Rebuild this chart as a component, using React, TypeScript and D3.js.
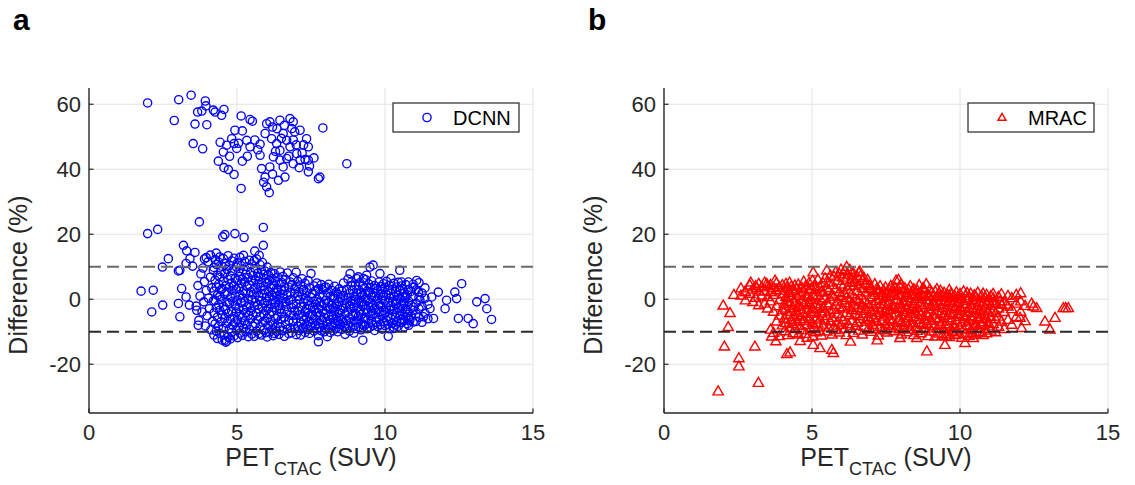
import React from "react";
import * as d3 from "d3";

// ---------- axis / reference values ----------
const X_DOMAIN: [number, number] = [0, 15];
const Y_DOMAIN: [number, number] = [-35, 65];
const X_TICKS = [0, 5, 10, 15];
const Y_TICKS = [-20, 0, 20, 40, 60];
const LIMITS = [10, -10];

// ---------- DCNN (panel a) ----------
const dcnnUpper: [number, number][] = [
  [1.98, 60.4], [3.03, 61.4], [3.45, 62.8], [3.93, 61.0], [3.95, 59.5], [2.88, 55.0], [3.67, 57.6], [3.81, 57.9],
  [4.2, 58.2], [4.26, 57.6], [4.56, 58.4], [4.48, 56.6], [3.58, 53.9], [3.98, 53.7], [3.52, 47.9], [3.84, 46.3],
  [5.14, 56.4], [5.44, 55.3], [5.52, 54.8], [4.93, 52.0], [5.18, 51.8], [4.43, 48.3], [4.65, 47.4], [4.54, 45.3],
  [4.82, 49.4], [4.9, 47.9], [4.99, 46.4], [5.33, 48.9], [5.44, 46.9], [5.78, 47.7], [4.37, 42.5], [4.56, 40.5],
  [4.71, 39.9], [4.9, 38.4], [5.18, 42.5], [5.14, 34.1], [5.78, 44.3], [5.83, 40.2], [6.0, 34.6], [6.09, 32.8],
  [5.95, 37.6], [6.0, 54.0], [6.11, 54.6], [6.45, 55.1], [6.79, 55.6], [6.9, 54.6], [7.13, 52.0], [7.35, 49.4],
  [7.41, 46.9], [5.95, 51.0], [6.17, 49.4], [6.34, 47.9], [6.56, 51.0], [6.68, 48.9], [6.45, 45.8], [6.79, 46.9],
  [7.02, 44.8], [7.13, 42.8], [6.9, 41.7], [6.68, 43.3], [6.45, 42.8], [6.56, 40.7], [6.23, 43.8], [6.11, 40.7],
  [6.4, 36.6], [6.62, 37.6], [7.41, 42.8], [7.41, 39.2], [7.75, 37.1], [7.8, 37.6], [7.9, 52.7], [8.71, 41.7],
  [5.6, 49.0], [5.7, 46.0], [6.3, 45.5], [6.5, 49.5], [6.9, 49.0], [7.0, 47.5], [7.2, 45.0], [7.3, 43.0],
  [6.2, 38.5], [5.9, 36.0], [6.75, 44.0], [7.1, 40.5], [6.35, 52.5], [5.35, 44.0], [5.05, 48.0], [4.75, 44.0],
  [7.6, 43.5], [7.45, 41.0], [6.85, 52.5], [6.2, 53.0], [6.6, 53.5], [6.95, 51.5], [7.25, 47.5],
];

const dcnnOutliers: [number, number][] = [
  [1.98, 20.2], [2.32, 21.5], [3.73, 23.8], [4.52, 19.2], [4.59, 19.9], [4.93, 20.2], [5.24, 19.0], [5.89, 22.1],
  [5.89, 16.6], [3.19, 16.6], [3.3, 14.9], [3.58, 14.4], [3.41, 12.5], [3.28, 11.0], [3.07, 8.9], [2.68, 12.5],
  [2.48, 9.9], [3.02, 8.7], [1.76, 2.5], [2.17, 2.8], [2.12, -3.9], [2.49, -1.8], [3.07, -5.4], [3.02, -1.3],
  [3.13, 3.3], [3.28, 0.7], [3.39, -1.8], [3.64, -3.4], [3.69, -8.0], [4.59, -12.6], [4.65, -12.9], [7.75, -13.1],
  [9.25, -12.6], [10.11, -11.4], [10.28, -9.0], [10.5, 8.9], [9.6, 10.5], [9.49, 9.9], [9.83, 7.9], [8.82, 7.9],
  [8.87, 5.3], [9.1, 6.9], [9.27, 6.4], [9.38, 7.4], [12.59, 4.8], [12.36, 2.2], [12.42, 0.2], [12.08, -0.3],
  [12.03, -2.9], [12.48, -5.9], [12.81, -5.9], [12.98, -7.5], [13.1, -0.8], [13.38, 0.2], [13.44, -2.9],
  [13.6, -6.2], [11.8, 2.2], [11.58, 0.7], [11.52, -2.9], [11.64, -5.9], [11.07, 5.8], [10.96, 3.8], [11.13, 2.2],
  [11.18, -0.3], [10.96, -2.4], [11.3, -5.4], [10.84, -6.5], [10.79, 5.3], [10.56, 5.3], [10.5, 2.8],
  [10.68, 0.7], [10.39, -1.3], [3.5, 10.2], [3.9, 12.4], [4.1, 13.6], [5.6, 14.8], [5.75, 13.5], [4.3, 14.2],
];

// columns: [x, list of y values]
const dcnnCore: [number, number[]][] = [
  [3.62, [-2.1]], [3.68, [4.2]], [3.71, [-6.5]], [3.75, [1.0]], [3.78, [7.8]], [3.82, [-3.9]], [3.85, [9.6]],
  [3.88, [-0.8]], [3.9, [5.4]], [3.93, [-8.2]], [3.96, [2.7, 12.8]], [3.99, [-5.1]], [4.02, [11.5]], [4.04, [0.3]],
  [4.07, [-2.9]], [4.1, [6.8]], [4.12, [-9.4]], [4.15, [3.5]], [4.17, [-6.8]], [4.2, [8.9, -0.5]],
  [4.22, [-11.0, -4.2, 2.5, 9.8]], [4.26, [-7.6, -0.4, 5.9, 12.2]], [4.3, [-9.8, -2.6, 3.8, 10.7]],
  [4.34, [-5.5, 1.2, 7.4, -12.1]], [4.38, [-8.3, -1.7, 4.6, 11.4]], [4.42, [-10.5, -3.4, 0.9, 6.8, 13.0]],
  [4.46, [-6.9, -0.1, 8.5, 2.9]], [4.5, [-12.6, -4.8, 3.3, 10.1]], [4.54, [-8.9, -2.2, 5.5, 12.5]],
  [4.58, [-10.9, -5.9, 1.6, 7.9]], [4.62, [-13.2, -3.1, 4.2, 11.0]], [4.66, [-7.4, -0.9, 9.2, 2.2]],
  [4.7, [-11.6, -4.4, 6.1, 13.4]], [4.74, [-9.1, -1.3, 3.7, 10.4]], [4.78, [-6.2, 0.6, 7.2, -12.2]],
  [4.82, [-10.2, -3.7, 5.0, 11.8]], [4.86, [-8.0, -0.6, 2.8, 8.8]], [4.9, [-11.3, -5.3, 4.1, 12.6]],
  [4.94, [-7.0, -2.0, 6.4, 1.0]], [4.98, [-9.6, -3.9, 9.9, 3.1]],
  [5.02, [-11.8, -6.4, -0.2, 5.8, 11.2]], [5.06, [-8.6, -2.9, 3.4, 8.6]], [5.1, [-10.4, -4.6, 1.4, 7.0, 12.9]],
  [5.14, [-7.2, -1.1, 4.8, 10.3]], [5.18, [-11.1, -5.6, 0.4, 6.2]], [5.22, [-8.9, -3.3, 2.6, 9.1, 13.5]],
  [5.26, [-6.6, -0.7, 5.3, 11.6]], [5.3, [-10.0, -4.1, 1.9, 7.7]], [5.34, [-7.9, -2.4, 3.9, 10.0]],
  [5.38, [-11.5, -5.0, 0.1, 6.6]], [5.42, [-9.3, -1.6, 4.4, 12.0]], [5.46, [-6.1, -3.6, 2.3, 8.3]],
  [5.5, [-10.7, -0.3, 5.6, 10.8]], [5.54, [-8.2, -4.9, 1.5, 7.3]], [5.58, [-11.4, -2.1, 3.2, 11.9]],
  [5.62, [-7.5, -0.9, 6.0, 9.4]], [5.66, [-9.8, -4.3, 2.0, 12.4]], [5.7, [-6.3, -1.8, 4.7, 8.0]],
  [5.74, [-10.6, -3.0, 0.8, 6.9]], [5.78, [-8.4, -5.4, 3.6, 10.6]], [5.82, [-11.0, -0.5, 5.1, 9.0]],
  [5.86, [-7.1, -2.7, 1.7, 11.3]], [5.9, [-9.5, -4.5, 4.0, 7.6]], [5.94, [-6.8, -1.2, 2.9, 8.7]],
  [5.98, [-10.3, -3.5, 0.5, 6.3]],
  [6.02, [-11.6, -5.8, -0.6, 4.9, 9.9]], [6.06, [-8.1, -2.8, 2.4, 7.5]], [6.1, [-10.1, -4.7, 0.7, 5.7]],
  [6.14, [-6.7, -1.5, 3.6, 8.2]], [6.18, [-9.4, -3.8, 1.3, 6.4]], [6.22, [-7.6, -0.2, 4.3, -11.2]],
  [6.26, [-10.5, -2.5, 2.1, 7.9]], [6.3, [-5.9, -1.0, 5.5, -8.7]], [6.34, [-9.9, -3.4, 0.9, 3.3]],
  [6.38, [-7.3, -5.2, 6.8, 2.7]], [6.42, [-10.8, -1.9, 4.6, -0.1]], [6.46, [-8.5, -3.0, 1.6, 8.4]],
  [6.5, [-6.2, -4.4, 3.0, 5.2]], [6.55, [-9.7, -1.3, 0.3, 7.0]], [6.6, [-11.4, -5.5, 2.6, 4.0]],
  [6.65, [-7.8, -2.2, -0.8, 6.1]], [6.7, [-9.2, -3.9, 1.2, 8.1]], [6.75, [-6.5, -0.4, 3.7, -10.6]],
  [6.8, [-8.8, -4.9, 2.0, 5.3]], [6.85, [-10.3, -2.6, 0.0, 4.5]], [6.9, [-7.0, -1.6, 6.6, -5.0]],
  [6.95, [-9.0, -3.5, 1.8, 3.1]],
  [7.0, [-10.9, -6.0, -1.4, 3.9, 8.3]], [7.05, [-8.3, -3.6, 0.9, 5.5]], [7.1, [-9.6, -4.8, -0.2, 2.3]],
  [7.15, [-7.1, -2.3, 4.4, -11.0]], [7.2, [-9.0, -5.3, 1.4, 6.3]], [7.25, [-6.4, -1.1, 3.0, -8.6]],
  [7.3, [-10.2, -3.9, 0.2, 4.9]], [7.35, [-7.7, -2.8, 2.0, -5.7]], [7.4, [-9.3, -0.6, 5.8, -4.3]],
  [7.45, [-6.9, -1.9, 3.4, -10.5]], [7.5, [-8.5, -4.6, 0.6, 7.9]], [7.55, [-7.3, -2.5, 1.8, -5.1]],
  [7.6, [-9.8, -3.3, 4.1, -0.7]], [7.65, [-6.1, -1.6, 2.6, -8.0]], [7.7, [-9.1, -4.2, 0.0, 5.0]],
  [7.75, [-7.5, -2.9, 3.2, -11.2]], [7.8, [-8.7, -5.0, -0.9, 1.5]], [7.85, [-6.6, -2.0, 4.5, -9.7]],
  [7.9, [-8.0, -3.7, 0.8, 2.9]], [7.95, [-10.0, -5.6, -1.2, 3.6]],
  [8.0, [-9.2, -4.4, -0.4, 3.8]], [8.05, [-7.0, -2.4, 1.9, -11.5]], [8.1, [-8.8, -5.2, -1.0, 4.6]],
  [8.15, [-6.3, -3.0, 0.9, -10.2]], [8.2, [-8.1, -4.8, -1.8, 2.7]], [8.25, [-9.6, -6.1, -2.7, 1.0]],
  [8.3, [-7.5, -3.6, 0.2, 4.0]], [8.35, [-8.9, -5.5, -1.5, 2.2]], [8.4, [-6.8, -2.2, 1.5, -10.0]],
  [8.45, [-9.0, -4.1, -0.7, 3.2]], [8.5, [-7.8, -3.3, 0.6, -5.9]], [8.55, [-9.3, -6.4, -1.9, 2.5]],
  [8.6, [-7.2, -2.8, 1.2, 5.0]], [8.65, [-8.4, -4.6, -0.3, -10.8]], [8.7, [-6.5, -1.4, 3.0, -9.0]],
  [8.75, [-8.0, -3.9, 0.4, 6.2]], [8.8, [-9.8, -5.7, -2.1, 1.8]], [8.85, [-7.1, -3.0, 4.2, -0.5]],
  [8.9, [-8.6, -4.9, -1.3, 2.8]], [8.95, [-10.4, -6.6, -2.5, 0.9]],
  [9.0, [-9.0, -4.4, -0.1, 4.4]], [9.05, [-7.3, -2.6, 1.7, 6.3]], [9.1, [-8.5, -5.3, -1.2, 3.0]],
  [9.15, [-6.4, -3.4, 0.6, 5.1]], [9.2, [-9.4, -4.7, -0.8, 2.1]], [9.25, [-7.7, -2.0, 1.3, 4.0]],
  [9.3, [-8.2, -5.8, -1.6, 3.4]], [9.35, [-6.0, -3.1, 0.2, 6.0]], [9.4, [-9.1, -4.2, -0.4, 2.5]],
  [9.45, [-7.4, -2.3, 1.9, 4.7]], [9.5, [-8.6, -5.1, -1.0, 3.6]], [9.55, [-6.7, -3.6, 0.7, 5.6]],
  [9.6, [-8.0, -4.5, -1.9, 2.0]], [9.65, [-9.6, -2.7, 1.0, 4.2]], [9.7, [-7.0, -5.5, -0.6, 3.3]],
  [9.75, [-8.4, -3.2, 0.3, 2.6]], [9.8, [-6.2, -4.0, -1.4, 5.3]], [9.85, [-7.8, -2.1, 1.6, 3.9]],
  [9.9, [-9.2, -5.0, -0.2, 2.9]], [9.95, [-6.9, -3.5, 1.1, 4.8]],
  [10.0, [-8.1, -4.1, -0.5, 3.7]], [10.05, [-6.5, -2.4, 1.5, 5.5]], [10.1, [-7.7, -5.3, -1.1, 2.7]],
  [10.15, [-9.1, -3.3, 0.4, 4.3]], [10.2, [-6.0, -2.0, 1.8, 6.4]], [10.25, [-7.4, -4.7, -0.8, 3.1]],
  [10.3, [-8.6, -3.0, 0.9, 4.9]], [10.35, [-5.6, -1.5, 2.3, -7.9]], [10.4, [-6.9, -4.2, -0.3, 3.8]],
  [10.45, [-8.3, -2.7, 1.2, 5.2]], [10.5, [-5.1, -3.6, 0.0, 2.6]], [10.55, [-7.2, -1.8, 4.1, -6.2]],
  [10.6, [-4.6, -2.9, 0.7, 3.3]], [10.65, [-6.6, -1.1, 2.0, -8.5]], [10.7, [-5.4, -3.2, 0.5, 4.5]],
  [10.75, [-7.5, -2.2, 1.4, -4.0]], [10.8, [-6.0, -0.6, 3.0, -8.0]],
  [10.88, [-5.2, -1.9, 2.4]], [10.95, [-7.0, -3.4, 0.8, 4.6]], [11.05, [-4.5, -1.2, 2.9, -6.8]],
  [11.15, [-3.0, 0.6, 5.1, -5.6]], [11.25, [-7.1, -2.2, 1.9]], [11.35, [-4.3, 0.3, 3.5]], [11.45, [-6.0, -1.6]],
];

// ---------- MRAC (panel b) ----------
const mracOutliers: [number, number][] = [
  [1.83, -28.5], [2.04, -14.7], [2.0, -2.1], [2.23, -4.4], [2.17, -8.7], [2.53, -18.3], [2.53, -20.8],
  [3.07, -14.7], [3.19, -25.9], [2.36, 1.2], [2.74, 2.2], [2.93, 5.0], [3.13, 3.3], [3.47, 4.6], [3.75, 5.6],
  [3.64, -11.6], [3.78, -13.1], [4.15, -17.0], [4.26, -16.5], [5.04, 8.1], [5.5, 8.7], [6.17, 9.8], [6.62, 8.4],
  [5.04, -14.2], [5.27, -15.2], [5.67, -15.7], [5.72, -16.7], [7.92, 5.8], [7.8, 3.3], [8.76, 3.3],
  [8.88, -16.2], [9.49, -14.2], [9.72, 1.2], [9.94, 0.7], [11.58, -1.8], [12.03, -5.9], [12.08, -9.0],
  [12.48, -2.4], [12.59, -2.9], [12.87, -7.0], [13.04, -9.5], [13.21, -5.9], [13.49, -2.9], [13.66, -2.9],
  [13.57, -2.9], [7.97, -12.1], [8.54, -12.1], [9.55, -11.6], [10.45, -12.1], [10.17, -13.6], [11.13, -1.3],
  [11.35, -0.8], [12.42, -1.5], [4.6, -13.0], [6.3, -13.2], [7.2, -12.8],
];

const mracCore: [number, number[]][] = [
  [2.6, [1.0, 3.2]], [2.75, [2.0, -0.5]], [2.9, [4.1, 1.5]], [3.0, [2.8, -1.0]], [3.1, [0.3, 3.9]],
  [3.2, [2.2, -2.0, 4.6]], [3.3, [1.0, 3.5]], [3.4, [-1.5, 2.4, 5.0]], [3.5, [0.5, 3.9, -3.0]],
  [3.6, [-9.5, 2.0, 4.3, -0.8]], [3.7, [-4.0, 1.2, 3.3, -10.5]], [3.8, [-7.0, -2.3, 2.6, 4.8]],
  [3.9, [-11.5, -5.2, -0.4, 3.6]], [4.0, [-8.2, -3.5, 1.4, 4.2]], [4.06, [-10.0, -6.1, -1.6, 2.5]],
  [4.12, [-7.5, -3.0, 0.6, 4.6]], [4.18, [-11.2, -4.9, -0.9, 3.1]], [4.24, [-8.9, -2.2, 1.8, 5.0]],
  [4.3, [-6.5, -4.1, 0.1, 3.7]], [4.36, [-10.6, -2.8, 2.3, -7.8]], [4.42, [-5.6, -1.2, 4.1, -9.3]],
  [4.48, [-7.2, -3.6, 0.9, 2.9]], [4.54, [-11.0, -5.0, -1.8, 4.4]], [4.6, [-8.4, -2.5, 1.6, -6.2]],
  [4.66, [-9.7, -4.3, -0.5, 3.4]], [4.72, [-6.9, -2.0, 2.2, 5.3]], [4.78, [-10.8, -5.5, -1.1, 3.8]],
  [4.84, [-8.0, -3.3, 0.7, -12.0]], [4.9, [-6.3, -1.5, 2.7, 4.9]], [4.96, [-9.4, -4.6, -0.3, 3.0]],
  [5.02, [-11.6, -7.4, -2.9, 1.2, 5.6]], [5.08, [-8.7, -4.0, 0.4, 4.0]], [5.14, [-10.3, -5.8, -1.7, 2.8]],
  [5.2, [-7.6, -3.1, 1.0, 5.9]], [5.26, [-9.9, -6.4, -2.3, 3.6]], [5.32, [-11.3, -4.5, -0.6, 2.1]],
  [5.38, [-8.2, -2.7, 1.9, 4.7]], [5.44, [-6.7, -3.9, 0.2, 6.3]], [5.5, [-10.1, -5.3, -1.4, 3.3]],
  [5.56, [-8.8, -2.1, 2.5, 5.0]], [5.62, [-7.0, -4.2, -0.2, 7.1]], [5.68, [-11.0, -5.9, 1.3, 4.2]],
  [5.74, [-8.5, -3.4, 0.6, 6.8]], [5.8, [-9.6, -1.9, 3.0, 8.2]], [5.86, [-7.3, -4.7, -0.8, 5.5]],
  [5.92, [-10.4, -2.6, 2.0, 7.6]], [5.98, [-8.1, -5.6, 0.9, 4.4, 9.0]], [6.04, [-6.6, -3.0, 3.6, 6.5]],
  [6.1, [-9.3, -1.3, 1.7, 8.6]], [6.16, [-11.2, -4.4, 0.3, 5.8]], [6.22, [-7.8, -2.4, 2.8, 7.3]],
  [6.28, [-9.0, -5.1, -0.5, 4.9, 8.9]], [6.34, [-6.9, -3.5, 1.4, 6.1]], [6.4, [-10.5, -1.8, 3.9, 7.8]],
  [6.46, [-8.3, -4.9, 0.0, 5.2]], [6.52, [-7.4, -2.9, 2.3, 6.9]], [6.58, [-9.8, -5.4, -0.9, 4.1, 8.1]],
  [6.64, [-6.2, -3.7, 1.0, 7.0]], [6.7, [-11.0, -2.0, 3.2, 5.6]], [6.76, [-8.6, -4.6, -0.4, 6.4]],
  [6.82, [-7.1, -3.2, 1.9, 4.6]], [6.88, [-9.5, -5.7, -1.5, 5.8]], [6.94, [-6.5, -2.5, 2.9, 4.0]],
  [7.0, [-10.2, -4.1, 0.5, 3.2]], [7.06, [-8.0, -6.0, -1.9, 2.4]], [7.12, [-9.3, -3.6, 1.2, 4.5]],
  [7.18, [-7.2, -5.0, -0.7, 3.0]], [7.24, [-11.3, -2.7, 1.8, 2.7]], [7.3, [-8.6, -4.3, -0.1, 3.9]],
  [7.36, [-6.9, -3.0, 1.0, 1.8]], [7.42, [-9.7, -5.5, -1.6, 2.6]], [7.48, [-7.9, -3.8, 0.4, 3.5]],
  [7.54, [-10.4, -4.8, -2.2, 1.5]], [7.6, [-8.3, -6.3, -0.9, 2.8]], [7.66, [-9.1, -3.4, 0.8, 4.0]],
  [7.72, [-7.0, -5.2, -1.8, 2.2]], [7.78, [-10.0, -2.6, 1.6, 3.6]], [7.84, [-8.5, -4.5, -0.3, 5.6]],
  [7.9, [-6.6, -3.1, 1.1, 2.9]], [7.96, [-9.4, -5.8, -1.3, 3.8]],
  [8.02, [-11.0, -7.4, -2.8, 0.9, 4.4]], [8.08, [-8.8, -4.0, -0.6, 2.6]], [8.14, [-7.1, -5.3, -1.9, 3.3]],
  [8.2, [-10.3, -3.5, 0.2, 1.7]], [8.26, [-8.2, -6.0, -2.3, 2.9]], [8.32, [-9.5, -4.6, -0.8, 3.9]],
  [8.38, [-7.6, -3.1, 1.0, 2.2]], [8.44, [-11.2, -5.6, -1.6, 3.0]], [8.5, [-8.7, -4.2, -0.1, 1.4]],
  [8.56, [-9.9, -6.5, -2.7, 2.5]], [8.62, [-7.4, -3.7, 0.5, 4.2]], [8.68, [-10.6, -5.0, -1.2, 1.9]],
  [8.74, [-8.1, -2.9, 0.9, 3.1]], [8.8, [-9.3, -6.2, -2.0, 2.6]], [8.86, [-7.7, -4.4, -0.4, 4.5]],
  [8.92, [-11.5, -5.5, -1.5, 1.3]], [8.98, [-8.9, -3.3, 0.6, 2.9]],
  [9.04, [-10.1, -6.8, -2.5, 1.8]], [9.1, [-8.4, -4.9, -0.9, 0.9]], [9.16, [-11.6, -5.9, -2.2, 2.2]],
  [9.22, [-9.2, -3.8, 0.1, 3.0]], [9.28, [-10.7, -6.4, -1.7, 1.4]], [9.34, [-8.0, -4.5, -0.5, 2.5]],
  [9.4, [-11.4, -7.1, -2.9, 0.7]], [9.46, [-9.6, -5.2, -1.0, 1.9]], [9.52, [-10.9, -3.6, 0.4, -7.8]],
  [9.58, [-8.6, -6.0, -2.0, 1.2]], [9.64, [-11.8, -4.4, -0.6, 2.7]], [9.7, [-9.1, -6.9, -2.6, 1.7]],
  [9.76, [-10.3, -5.0, -1.4, 0.3]], [9.82, [-8.3, -3.2, 0.9, -11.2]], [9.88, [-9.8, -6.6, -2.3, 2.0]],
  [9.94, [-11.0, -4.7, -1.1, 0.6]],
  [10.0, [-8.8, -5.6, -2.8, 1.5]], [10.06, [-12.0, -7.3, -3.7, 0.0]], [10.12, [-9.4, -5.1, -1.6, 2.3]],
  [10.18, [-10.8, -6.2, -2.5, 0.8]], [10.24, [-8.2, -4.3, -0.7, 1.8]], [10.3, [-11.4, -7.0, -3.1, 0.2]],
  [10.36, [-9.6, -5.4, -1.9, 1.6]], [10.42, [-10.5, -6.6, -2.8, -0.4]], [10.48, [-8.4, -4.5, -1.2, 1.1]],
  [10.54, [-11.0, -7.6, -3.5, 0.5]], [10.6, [-9.0, -5.7, -2.1, 1.9]], [10.66, [-10.2, -6.4, -0.9, -3.8]],
  [10.72, [-8.0, -4.9, -2.4, 0.9]], [10.78, [-11.2, -7.2, -1.5, 1.6]], [10.84, [-9.3, -5.2, -3.0, 0.3]],
  [10.9, [-10.6, -6.1, -1.8, 1.2]], [10.96, [-8.5, -4.2, -0.6, -7.5]], [11.04, [-9.8, -5.6, -2.2, 0.8]],
  [11.12, [-7.8, -3.6, 0.1, 1.5]], [11.2, [-10.3, -6.3, -1.6, -4.4]], [11.3, [-8.6, -3.0, 0.6, -5.5]],
  [11.4, [-7.0, -1.9, 1.4]], [11.5, [-9.3, -4.1, -0.8]], [11.62, [-6.5, -2.4, 0.9]], [11.75, [-8.0, -3.2, 0.2]],
  [11.9, [-5.6, -1.5, 1.2]], [12.05, [-4.0, -0.8, 1.7]], [12.2, [-6.9, -2.2]],
];

const flatten = (cols: [number, number[]][]): [number, number][] =>
  cols.flatMap(([x, ys]) => ys.map((y) => [x, y] as [number, number]));

const dcnnPoints: [number, number][] = [...dcnnUpper, ...dcnnOutliers, ...flatten(dcnnCore)];
const mracPoints: [number, number][] = [...mracOutliers, ...flatten(mracCore)];

// ---------- layout ----------
const W = 1135;
const H = 485;
const PLOT_W = 444;
const PLOT_TOP = 88;
const PLOT_BOTTOM = 413;
const FONT = "'Liberation Sans', Arial, Helvetica, sans-serif";
const AXIS_COLOR = "#262626";
const GRID_COLOR = "#e2e2e2";

const triPath = d3.symbol(d3.symbolTriangle, 46)() as string;
const triLegend = d3.symbol(d3.symbolTriangle, 28)() as string;

type PanelProps = {
  left: number;
  letter: string;
  legend: string;
  points: [number, number][];
  kind: "circle" | "triangle";
  color: string;
};

function Panel({ left, letter, legend, points, kind, color }: PanelProps) {
  const x = d3.scaleLinear().domain(X_DOMAIN).range([left, left + PLOT_W]);
  const y = d3.scaleLinear().domain(Y_DOMAIN).range([PLOT_BOTTOM, PLOT_TOP]);
  const legX = x(0) + 304;
  return (
    <g>
      <text x={left - 76} y={30} fontFamily={FONT} fontWeight="bold" fontSize={30} fill="#000">
        {letter}
      </text>
      {/* grid */}
      {X_TICKS.filter((t) => t > 0).map((t) => (
        <line key={"gx" + t} x1={x(t)} x2={x(t)} y1={y(Y_DOMAIN[0])} y2={y(Y_DOMAIN[1])} stroke={GRID_COLOR} strokeWidth={1} />
      ))}
      {Y_TICKS.map((t) => (
        <line key={"gy" + t} x1={x(0)} x2={x(15)} y1={y(t)} y2={y(t)} stroke={GRID_COLOR} strokeWidth={1} />
      ))}
      {/* points */}
      <g fill="none" stroke={color} strokeWidth={kind === "circle" ? 1.35 : 1.4}>
        {points.map(([px, py], i) =>
          kind === "circle" ? (
            <circle key={i} cx={x(px)} cy={y(py)} r={4.1} />
          ) : (
            <path key={i} d={triPath} transform={`translate(${x(px)},${y(py)})`} />
          )
        )}
      </g>
      {/* limits of agreement */}
      {LIMITS.map((v, i) => (
        <line
          key={"lim" + v}
          x1={x(0)}
          x2={x(15)}
          y1={y(v)}
          y2={y(v)}
          stroke={i === 0 ? "#6a6a6a" : "#2a2a2a"}
          strokeWidth={2}
          strokeDasharray="12,6"
        />
      ))}
      {/* axes */}
      <line x1={x(0)} x2={x(0)} y1={y(Y_DOMAIN[0])} y2={y(Y_DOMAIN[1])} stroke={AXIS_COLOR} strokeWidth={1.4} />
      <line x1={x(0)} x2={x(15)} y1={y(Y_DOMAIN[0])} y2={y(Y_DOMAIN[0])} stroke={AXIS_COLOR} strokeWidth={1.4} />
      {Y_TICKS.map((t) => (
        <g key={"ty" + t}>
          <line x1={x(0)} x2={x(0) + 4.5} y1={y(t)} y2={y(t)} stroke={AXIS_COLOR} strokeWidth={1.2} />
          <text x={x(0) - 8} y={y(t)} dy="0.36em" textAnchor="end" fontFamily={FONT} fontSize={22} fill={AXIS_COLOR}>
            {t}
          </text>
        </g>
      ))}
      {X_TICKS.map((t) => (
        <g key={"tx" + t}>
          <line x1={x(t)} x2={x(t)} y1={y(Y_DOMAIN[0])} y2={y(Y_DOMAIN[0]) - 4.5} stroke={AXIS_COLOR} strokeWidth={1.2} />
          <text x={x(t)} y={440} textAnchor="middle" fontFamily={FONT} fontSize={22} fill={AXIS_COLOR}>
            {t}
          </text>
        </g>
      ))}
      {/* axis labels */}
      <text x={x(7.5)} y={466} textAnchor="middle" fontFamily={FONT} fontSize={25} fill={AXIS_COLOR}>
        PET
        <tspan fontSize={18} dy={9}>CTAC</tspan>
        <tspan dy={-9}> (SUV)</tspan>
      </text>
      <text
        transform={`translate(${left - 62},${275}) rotate(-90)`}
        textAnchor="middle"
        fontFamily={FONT}
        fontSize={25}
        fill={AXIS_COLOR}
      >
        Difference (%)
      </text>
      {/* legend */}
      <rect x={legX} y={103} width={126} height={29} fill="#fff" stroke={AXIS_COLOR} strokeWidth={1.2} />
      {kind === "circle" ? (
        <circle cx={legX + 34} cy={117.5} r={4.1} fill="none" stroke={color} strokeWidth={1.35} />
      ) : (
        <path d={triLegend} transform={`translate(${legX + 34},${118})`} fill="none" stroke={color} strokeWidth={1.4} />
      )}
      <text x={legX + 60} y={117.5} dy="0.36em" fontFamily={FONT} fontSize={20} fill="#000">
        {legend}
      </text>
    </g>
  );
}

export default function App() {
  return (
    <svg width={W} height={H} style={{ position: "absolute", left: 0, top: 0, background: "#fff" }}>
      <rect width={W} height={H} fill="#fff" />
      <Panel left={89} letter="a" legend="DCNN" points={dcnnPoints} kind="circle" color="#0000ff" />
      <Panel left={664} letter="b" legend="MRAC" points={mracPoints} kind="triangle" color="#ff0000" />
    </svg>
  );
}
